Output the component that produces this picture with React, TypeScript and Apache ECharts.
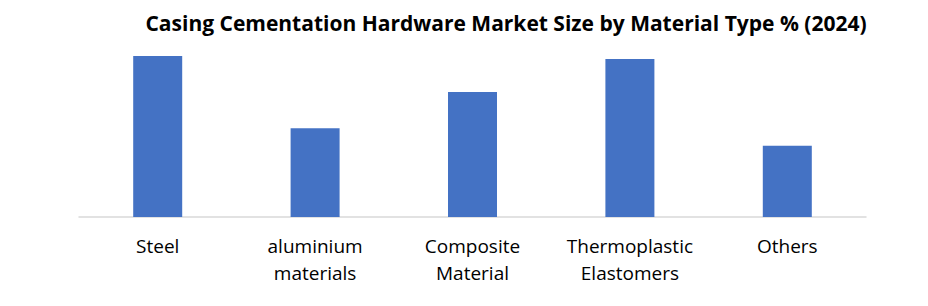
import React, { useEffect, useRef } from "react";
import * as echarts from "echarts";

const titleText = "Casing Cementation Hardware Market Size by Material Type % (2024)";
const categories = ["Steel", "aluminium\nmaterials", "Composite\nMaterial", "Thermoplastic\nElastomers", "Others"];
const shares = [26.7, 14.7, 20.7, 26.2, 11.8];

export default function App() {
  const ref = useRef<HTMLDivElement>(null);
  useEffect(() => {
    if (!ref.current) return;
    const chart = echarts.init(ref.current, null, { renderer: "svg" });
    chart.setOption({
      animation: false,
      backgroundColor: "#ffffff",
      title: {
        text: titleText,
        left: 501,
        textAlign: "center",
        top: 7,
        textStyle: {
          fontFamily: "Open Sans",
          fontWeight: "bold",
          fontSize: 21,
          color: "#000000",
        },
      },
      grid: { left: 79, right: 62, top: 36, bottom: 89, containLabel: false },
      xAxis: {
        type: "category",
        data: categories,
        axisLine: { show: true, lineStyle: { color: "#d9d9d9", width: 1.5 } },
        axisTick: { show: false },
        axisLabel: {
          interval: 0,
          margin: 15,
          color: "#000000",
          fontFamily: "Open Sans",
          fontSize: 19,
          lineHeight: 27,
        },
      },
      yAxis: {
        type: "value",
        min: 0,
        max: 30,
        show: false,
        splitLine: { show: false },
      },
      series: [
        {
          type: "bar",
          data: shares,
          barWidth: 49,
          itemStyle: { color: "#4472C4" },
        },
      ],
    });
    return () => chart.dispose();
  }, []);
  return (
    <div
      ref={ref}
      style={{ position: "fixed", left: 0, top: 0, width: 928, height: 306 }}
    />
  );
}
